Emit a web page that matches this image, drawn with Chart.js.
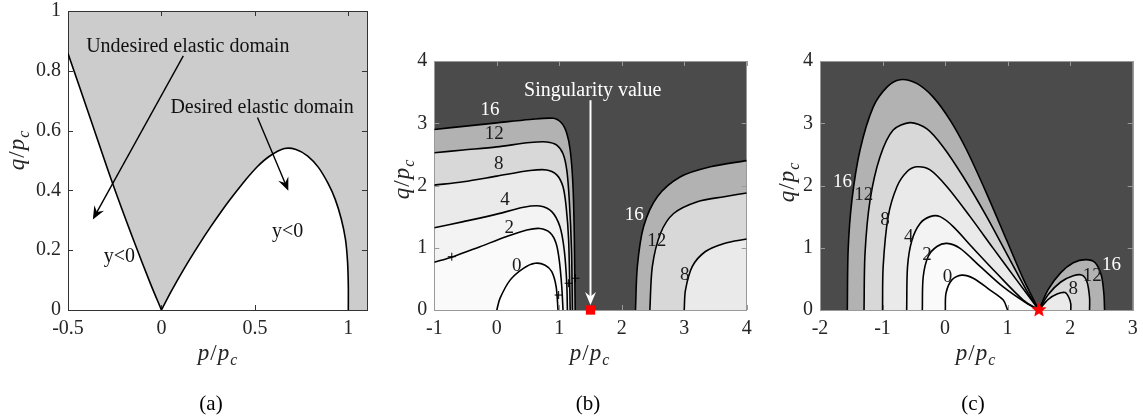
<!DOCTYPE html>
<html lang="en">
<head>
  <meta charset="UTF-8" />
  <title>Elastic domain and contour maps</title>
  <script src="https://cdn.jsdelivr.net/npm/chart.js"></script>
  <style>
    body { margin: 0; background: #fff; width: 1143px; height: 419px; position: relative; overflow: hidden; }
    canvas { position: absolute; top: 0; }
  </style>
</head>
<body>
  <canvas id="chartA" width="380" height="419" style="left:0"></canvas>
  <canvas id="chartB" width="380" height="419" style="left:380px"></canvas>
  <canvas id="chartC" width="383" height="419" style="left:760px"></canvas>

  <script>
    // ---- (a) elastic domains ----
    const aTickX = [-0.5, 0, 0.5, 1];
    const aTickLabelX = ['-0.5', '0', '0.5', '1'];
    const aTickY = [0, 0.2, 0.4, 0.6, 0.8, 1];
    const aTickLabelY = ['0', '0.2', '0.4', '0.6', '0.8', '1'];
    const aDesired = [[0, 0], [0.05, 0.06], [0.12, 0.137], [0.2, 0.218], [0.263, 0.278], [0.33, 0.338], [0.389, 0.387],
      [0.45, 0.435], [0.514, 0.48], [0.58, 0.515], [0.658, 0.54], [0.72, 0.537], [0.783, 0.515], [0.84, 0.477],
      [0.891, 0.424], [0.93, 0.37], [0.962, 0.305], [0.985, 0.235], [0.996, 0.16], [1.0, 0.08], [1.0, 0]];
    const aUndesired = [[-0.5, 0.858], [-0.38, 0.64], [-0.265, 0.43], [-0.15, 0.235], [-0.06, 0.09], [0, 0]];
    const aArrows = [[0.117, 0.85, -0.367, 0.303], [0.514, 0.644, 0.679, 0.399]]; // tail x,y -> tip x,y
    const aNotes = [[-0.403, 0.88, 'Undesired elastic domain'], [0.048, 0.675, 'Desired elastic domain'],
      [-0.309, 0.177, 'y<0'], [0.591, 0.262, 'y<0']];

    // ---- (b) contours, levels 0..16 ----
    const bTickX = [-1, 0, 1, 2, 3, 4];
    const bTickY = [0, 1, 2, 3, 4];
    const b0 = [[0, 0], [0.053, 0.19], [0.213, 0.48], [0.426, 0.67], [0.614, 0.75], [0.774, 0.72], [0.88, 0.615], [0.95, 0.374], [0.98, 0]];
    const b2 = [[-1, 0.766], [-0.7, 0.856], [-0.27, 1.017], [0.16, 1.18], [0.48, 1.284], [0.69, 1.31], [0.855, 1.24], [0.95, 1.07], [1.0, 0.8], [1.04, 0.374], [1.06, 0]];
    const b4 = [[-1, 1.32], [-0.535, 1.42], [0, 1.54], [0.43, 1.65], [0.69, 1.67], [0.88, 1.58], [1.01, 1.34], [1.08, 0.96], [1.12, 0.43], [1.13, 0]];
    const b8 = [[-1, 2.006], [-0.535, 2.06], [0, 2.15], [0.534, 2.24], [0.8, 2.25], [0.96, 2.17], [1.06, 1.98], [1.11, 1.66], [1.15, 1.12], [1.175, 0]];
    const b12 = [[-1, 2.525], [-0.535, 2.57], [0, 2.62], [0.534, 2.69], [0.8, 2.7], [0.96, 2.65], [1.06, 2.51], [1.12, 2.25], [1.16, 1.77], [1.196, 0.96], [1.21, 0]];
    const b16 = [[-1, 2.9], [-0.535, 2.95], [0, 3.006], [0.534, 3.06], [0.907, 3.08], [1.04, 3.0], [1.12, 2.84], [1.175, 2.57], [1.218, 2.03], [1.24, 1.24], [1.255, 0]];
    const b8R = [[3.0, 0], [3.02, 0.32], [3.13, 0.7], [3.34, 0.94], [3.64, 1.07], [4.0, 1.14]];
    const b12R = [[2.45, 0], [2.49, 0.7], [2.62, 1.23], [2.83, 1.55], [3.21, 1.74], [3.64, 1.82], [4.0, 1.88]];
    const b16R = [[2.22, 0], [2.25, 0.7], [2.35, 1.34], [2.57, 1.82], [2.94, 2.14], [3.42, 2.3], [4.0, 2.4]];
    const bLabels = [[-0.107, 3.21, '16'], [-0.04, 2.82, '12'], [0.03, 2.35, '8'], [0.13, 1.76, '4'], [0.2, 1.31, '2'],
      [0.32, 0.7, '0'], [2.2, 1.52, '16'], [2.56, 1.11, '12'], [3.01, 0.56, '8']];
    const bPlus = [[-0.72, 0.856], [0.99, 0.24], [1.15, 0.43], [1.26, 0.51]];
    const bSingular = [[1.5, 0]];
    const bArrow = [[1.5, 3.37, 1.5, 0.08]];
    const bNotes = [[1.535, 3.53, 'Singularity value']];

    // ---- (c) contours, levels 0..16 ----
    const cTickX = [-2, -1, 0, 1, 2, 3];
    const cTickY = [0, 1, 2, 3, 4];
    const c0 = [[0.004, 0], [0.015, 0.27], [0.105, 0.48], [0.265, 0.56], [0.45, 0.51], [0.72, 0.32], [0.93, 0.16], [1.0, 0]];
    const c2 = [[-0.364, 0], [-0.35, 0.53], [-0.27, 0.86], [-0.13, 1.02], [0.03, 1.07], [0.24, 0.99], [0.56, 0.7], [0.93, 0.37], [1.3, 0.11], [1.5, 0]];
    const c4 = [[-0.614, 0], [-0.6, 0.7], [-0.53, 1.12], [-0.4, 1.39], [-0.24, 1.5], [-0.08, 1.5], [0.13, 1.34], [0.45, 0.99], [0.825, 0.59], [1.25, 0.16], [1.5, 0]];
    const c8 = [[-1.0, 0], [-0.99, 0.7], [-0.91, 1.5], [-0.77, 1.98], [-0.61, 2.22], [-0.455, 2.3], [-0.24, 2.25], [0.03, 1.98], [0.4, 1.5], [0.77, 0.99], [1.145, 0.48], [1.5, 0]];
    const c12 = [[-1.296, 0], [-1.28, 0.91], [-1.2, 1.76], [-1.04, 2.46], [-0.83, 2.89], [-0.56, 3.01], [-0.29, 2.91], [-0.03, 2.62], [0.29, 2.14], [0.665, 1.5], [1.04, 0.8], [1.3, 0.32], [1.5, 0]];
    const c16 = [[-1.563, 0], [-1.55, 0.96], [-1.49, 1.76], [-1.36, 2.57], [-1.15, 3.26], [-0.93, 3.58], [-0.72, 3.7], [-0.455, 3.64], [-0.19, 3.42], [0.08, 3.05], [0.345, 2.57], [0.665, 1.87], [0.985, 1.12], [1.25, 0.5], [1.5, 0]];
    const c8R = [[1.5, 0], [1.65, 0.17], [1.8, 0.26], [1.92, 0.28], [1.98, 0.2], [2.01, 0.1], [2.01, 0]];
    const c12R = [[1.5, 0], [1.65, 0.25], [1.85, 0.45], [2.05, 0.55], [2.19, 0.56], [2.27, 0.45], [2.31, 0.2], [2.31, 0]];
    const c16R = [[1.5, 0], [1.65, 0.33], [1.85, 0.6], [2.05, 0.76], [2.25, 0.81], [2.4, 0.76], [2.5, 0.55], [2.54, 0.25], [2.55, 0]];
    const cLabels = [[-1.64, 2.06, '16'], [-1.3, 1.84, '12'], [-0.96, 1.45, '8'], [-0.58, 1.18, '4'], [-0.29, 0.88, '2'],
      [0.04, 0.53, '0'], [2.66, 0.72, '16'], [2.355, 0.55, '12'], [2.05, 0.33, '8']];
    const cSingular = [[1.5, 0]];

    const serif = '"Liberation Serif", "Times New Roman", serif';
    const band = { 0: '#ffffff', 2: '#fafafa', 4: '#f3f3f3', 8: '#eaeaea', 12: '#d8d8d8', 16: '#b2b2b2' };

    function pts(a) { return a.map(p => ({ x: p[0], y: p[1] })); }

    function contour(arr, fillColor) {
      return {
        data: pts(arr), showLine: true, pointRadius: 0, borderColor: '#000', borderWidth: 1.6,
        tension: 0.3, fill: 'origin', backgroundColor: fillColor
      };
    }

    function starIcon(r, color) {
      const c = document.createElement('canvas');
      c.width = c.height = Math.ceil(2 * r + 2);
      const g = c.getContext('2d');
      const m = c.width / 2;
      g.beginPath();
      for (let i = 0; i < 10; i++) {
        const rr = i % 2 ? r * 0.45 : r;
        const ang = -Math.PI / 2 + i * Math.PI / 5;
        g.lineTo(m + rr * Math.cos(ang), m + rr * Math.sin(ang));
      }
      g.closePath();
      g.fillStyle = color;
      g.fill();
      return c;
    }

    function arrowHead(ctx, x0, y0, x1, y1, len, half) {
      const d = Math.hypot(x1 - x0, y1 - y0);
      const ux = (x1 - x0) / d, uy = (y1 - y0) / d;
      ctx.beginPath();
      ctx.moveTo(x1, y1);
      ctx.lineTo(x1 - len * ux - half * uy, y1 - len * uy + half * ux);
      ctx.lineTo(x1 - 0.65 * len * ux, y1 - 0.65 * len * uy);
      ctx.lineTo(x1 - len * ux + half * uy, y1 - len * uy - half * ux);
      ctx.closePath();
      ctx.fill();
    }

    // italic "v/p" with subscript c, centred on (0,0)
    function drawRatio(ctx, v) {
      const big = 'italic 23px ' + serif, small = 'italic 16px ' + serif;
      const parts = [[v, big, 0], ['/', '23px ' + serif, 0], ['p', big, 0], ['c', small, 5]];
      let w = 0;
      parts.forEach(p => { ctx.font = p[1]; w += ctx.measureText(p[0]).width + 1; });
      let x = -w / 2;
      ctx.textAlign = 'left';
      ctx.textBaseline = 'alphabetic';
      parts.forEach(p => {
        ctx.font = p[1];
        ctx.fillText(p[0], x, 4 + p[2]);
        x += ctx.measureText(p[0]).width + 1;
      });
    }

    function deco(o) {
      return {
        id: 'deco',
        beforeDraw(chart) {
          const { ctx, chartArea: a } = chart;
          ctx.save();
          ctx.fillStyle = o.bg;
          ctx.fillRect(a.left, a.top, a.right - a.left, a.bottom - a.top);
          ctx.restore();
        },
        beforeDatasetsDraw(chart) {
          // box and inward ticks, drawn over the fills
          const { ctx, chartArea: a, scales: { x, y } } = chart;
          ctx.save();
          ctx.strokeStyle = o.frame;
          ctx.lineWidth = 1;
          ctx.beginPath();
          o.xTicks.forEach(v => {
            const px = Math.round(x.getPixelForValue(v)) + 0.5;
            ctx.moveTo(px, a.bottom); ctx.lineTo(px, a.bottom - 5);
            ctx.moveTo(px, a.top); ctx.lineTo(px, a.top + 5);
          });
          o.yTicks.forEach(v => {
            const py = Math.round(y.getPixelForValue(v)) + 0.5;
            ctx.moveTo(a.left, py); ctx.lineTo(a.left + 5, py);
            ctx.moveTo(a.right, py); ctx.lineTo(a.right - 5, py);
          });
          ctx.stroke();
          ctx.strokeRect(Math.round(a.left) + 0.5, Math.round(a.top) + 0.5,
            Math.round(a.right - a.left), Math.round(a.bottom - a.top));
          ctx.restore();
        },
        afterDatasetsDraw(chart) {
          const { ctx, scales: { x, y } } = chart;
          ctx.save();
          (o.arrows || []).forEach(r => {
            const x0 = x.getPixelForValue(r[0]), y0 = y.getPixelForValue(r[1]);
            const x1 = x.getPixelForValue(r[2]), y1 = y.getPixelForValue(r[3]);
            ctx.strokeStyle = o.arrowColor; ctx.fillStyle = o.arrowColor;
            ctx.lineWidth = o.arrowWidth;
            const d = Math.hypot(x1 - x0, y1 - y0);
            ctx.beginPath();
            ctx.moveTo(x0, y0);
            ctx.lineTo(x1 - (x1 - x0) / d * 6, y1 - (y1 - y0) / d * 6);
            ctx.stroke();
            arrowHead(ctx, x0, y0, x1, y1, 13, 5.5);
          });
          ctx.font = '20px ' + serif;
          ctx.textBaseline = 'middle';
          (o.notes || []).forEach(n => {
            ctx.fillStyle = o.noteColor;
            ctx.textAlign = o.noteAlign;
            ctx.fillText(n[2], x.getPixelForValue(n[0]), y.getPixelForValue(n[1]));
          });
          ctx.font = '19px ' + serif;
          ctx.textAlign = 'center';
          (o.labels || []).forEach(l => {
            ctx.fillStyle = l[2] === '16' ? '#ffffff' : '#1a1a1a';
            ctx.fillText(l[2], x.getPixelForValue(l[0]), y.getPixelForValue(l[1]));
          });
          ctx.restore();
        },
        afterDraw(chart) {
          const { ctx } = chart;
          ctx.save();
          ctx.fillStyle = '#262626';
          ctx.translate(o.xTitle[0], o.xTitle[1]);
          drawRatio(ctx, 'p');
          ctx.restore();
          ctx.save();
          ctx.fillStyle = '#262626';
          ctx.translate(o.yTitle[0], o.yTitle[1]);
          ctx.rotate(-Math.PI / 2);
          drawRatio(ctx, 'q');
          ctx.restore();
          ctx.save();
          ctx.fillStyle = '#000';
          ctx.font = '21px ' + serif;
          ctx.textAlign = 'center';
          ctx.textBaseline = 'middle';
          ctx.fillText(o.panel[0], o.panel[1], o.panel[2]);
          ctx.restore();
        }
      };
    }

    function makePanel(id, o) {
      const tickFont = { family: serif, size: 20 };
      return new Chart(document.getElementById(id), {
        type: 'scatter',
        data: { datasets: o.datasets },
        options: {
          responsive: false,
          animation: false,
          events: [],
          devicePixelRatio: 1,
          layout: { padding: o.pad },
          plugins: { legend: { display: false }, tooltip: { enabled: false }, filler: { drawTime: 'beforeDatasetsDraw' } },
          scales: {
            x: {
              type: 'linear', min: o.xRange[0], max: o.xRange[1],
              grid: { display: false, drawTicks: false }, border: { display: false },
              ticks: { font: tickFont, color: '#262626', padding: 7, maxRotation: 0, autoSkip: false,
                callback: (v, i) => o.xLabels[i] },
              afterBuildTicks: s => { s.ticks = o.xTicks.map(v => ({ value: v })); },
              afterFit: s => { s.height = 40; s.paddingLeft = 0; s.paddingRight = 0; }
            },
            y: {
              type: 'linear', min: o.yRange[0], max: o.yRange[1],
              grid: { display: false, drawTicks: false }, border: { display: false },
              ticks: { font: tickFont, color: '#262626', padding: 7, autoSkip: false,
                callback: (v, i) => o.yLabels[i] },
              afterBuildTicks: s => { s.ticks = o.yTicks.map(v => ({ value: v })); },
              afterFit: s => { s.width = o.yWidth; s.paddingTop = 0; s.paddingBottom = 0; }
            }
          }
        },
        plugins: [deco(o)]
      });
    }

    // (a)
    makePanel('chartA', {
      datasets: [
        contour(aDesired, '#ffffff'),
        contour(aUndesired, '#ffffff')
      ],
      xRange: [-0.5, 1.1], yRange: [0, 1],
      xTicks: aTickX, xLabels: aTickLabelX, yTicks: aTickY, yLabels: aTickLabelY,
      pad: { left: 0, right: 13, top: 11, bottom: 69 }, yWidth: 68,
      bg: '#cccccc', frame: '#333333',
      arrows: aArrows, arrowColor: '#000', arrowWidth: 1.4,
      notes: aNotes, noteColor: '#111', noteAlign: 'left',
      xTitle: [218, 356], yTitle: [20, 150], panel: ['(a)', 211, 404]
    });

    // (b)
    makePanel('chartB', {
      datasets: [
        { data: pts(bSingular), pointStyle: 'rect', pointRadius: 6.6, backgroundColor: '#ff0000', pointBorderWidth: 0, clip: false },
        { data: pts(bPlus), pointStyle: 'cross', pointRadius: 4, borderColor: '#000', pointBorderWidth: 1 },
        contour(b0, band[0]), contour(b2, band[2]), contour(b4, band[4]),
        contour(b8, band[8]), contour(b8R, band[8]),
        contour(b12, band[12]), contour(b12R, band[12]),
        contour(b16, band[16]), contour(b16R, band[16])
      ],
      xRange: [-1, 4], yRange: [0, 4],
      xTicks: bTickX, xLabels: bTickX.map(String), yTicks: bTickY, yLabels: bTickY.map(String),
      pad: { left: 0, right: 13.3, top: 61, bottom: 69 }, yWidth: 54.3,
      bg: '#4b4b4b', frame: '#999999',
      arrows: bArrow, arrowColor: '#ffffff', arrowWidth: 2,
      notes: bNotes, noteColor: '#ffffff', noteAlign: 'center',
      labels: bLabels,
      xTitle: [210, 356], yTitle: [25, 179], panel: ['(b)', 208, 404]
    });

    // (c)
    makePanel('chartC', {
      datasets: [
        { data: pts(cSingular), pointStyle: starIcon(8, '#ff0000'), pointRadius: 8, clip: false },
        contour(c0, band[0]), contour(c2, band[2]), contour(c4, band[4]),
        contour(c8, band[8]), contour(c8R, band[8]),
        contour(c12, band[12]), contour(c12R, band[12]),
        contour(c16, band[16]), contour(c16R, band[16])
      ],
      xRange: [-2, 3], yRange: [0, 4],
      xTicks: cTickX, xLabels: cTickX.map(String), yTicks: cTickY, yLabels: cTickY.map(String),
      pad: { left: 0, right: 10.3, top: 61, bottom: 69 }, yWidth: 60,
      bg: '#4b4b4b', frame: '#999999',
      labels: cLabels,
      xTitle: [216, 356], yTitle: [30, 182], panel: ['(c)', 213, 404]
    });
  </script>
</body>
</html>
